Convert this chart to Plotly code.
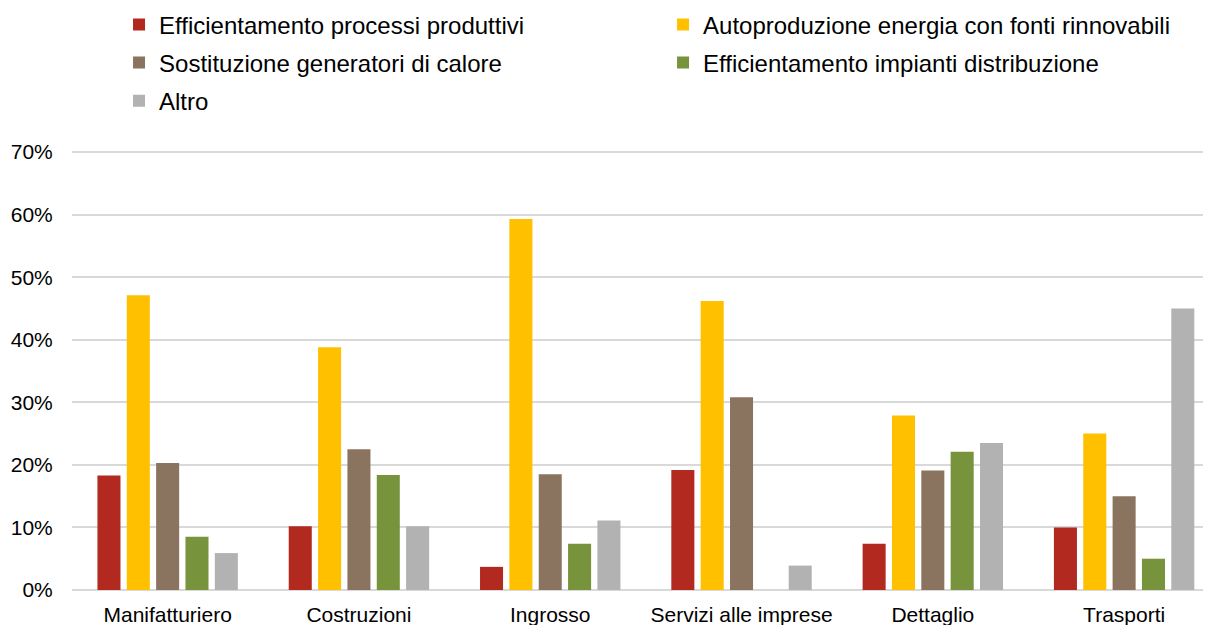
import plotly.graph_objects as go

settori = ["Manifatturiero", "Costruzioni", "Ingrosso", "Servizi alle imprese", "Dettaglio", "Trasporti"]

efficientamento_processi = [0.183, 0.102, 0.037, 0.192, 0.074, 0.100]
autoproduzione_rinnovabili = [0.471, 0.388, 0.593, 0.462, 0.279, 0.250]
sostituzione_generatori = [0.203, 0.225, 0.185, 0.308, 0.191, 0.150]
efficientamento_impianti = [0.085, 0.184, 0.074, 0.0, 0.221, 0.050]
altro = [0.059, 0.102, 0.111, 0.039, 0.235, 0.450]

serie = [
    ("Efficientamento processi produttivi", efficientamento_processi, "#B2291F", "legend"),
    ("Autoproduzione energia con fonti rinnovabili", autoproduzione_rinnovabili, "#FFC000", "legend2"),
    ("Sostituzione generatori di calore", sostituzione_generatori, "#8A7460", "legend"),
    ("Efficientamento impianti distribuzione", efficientamento_impianti, "#77933C", "legend2"),
    ("Altro", altro, "#B2B2B2", "legend"),
]

font_family = "Arial, 'Liberation Sans', sans-serif"

fig = go.Figure()
for nome, valori, colore, leg in serie:
    fig.add_trace(go.Bar(
        x=settori, y=valori, name=nome, legend=leg, legendgroup=nome,
        marker=dict(color=colore, line=dict(width=0)),
        hoverinfo="x+y+name",
    ))

leg_style = dict(
    orientation="v", xanchor="left", yanchor="top",
    font=dict(family=font_family, size=24, color="#000000"),
    bgcolor="rgba(0,0,0,0)", tracegroupgap=4, itemclick=False,
)

# la pagina ha 8px di margine sul body: margini ridotti di conseguenza
fig.update_layout(
    width=1211, height=625,
    margin=dict(l=64, r=0, t=141, b=43, autoexpand=False),
    paper_bgcolor="white", plot_bgcolor="white",
    barmode="group", bargap=0.233, bargroupgap=0.215,
    font=dict(family=font_family, size=21, color="#000000"),
    legend=dict(x=0.041, y=1.3327, **leg_style),
    legend2=dict(x=0.5153, y=1.3327, **leg_style),
    xaxis=dict(
        range=[-0.5, 5.496], showgrid=False, showline=False, zeroline=False,
        ticks="outside", ticklen=6, tickcolor="rgba(0,0,0,0)", tickfont=dict(size=21),
    ),
    yaxis=dict(
        range=[0, 0.705], tickvals=[0, 0.1, 0.2, 0.3, 0.4, 0.5, 0.6, 0.7], tickformat=".0%",
        showgrid=True, gridcolor="#D9D9D9", gridwidth=1.5,
        zeroline=True, zerolinecolor="#D9D9D9", zerolinewidth=1.5,
        showline=False, ticks="outside", ticklen=14, tickcolor="rgba(0,0,0,0)",
        tickfont=dict(size=21),
    ),
)

fig.write_html("out.html")
